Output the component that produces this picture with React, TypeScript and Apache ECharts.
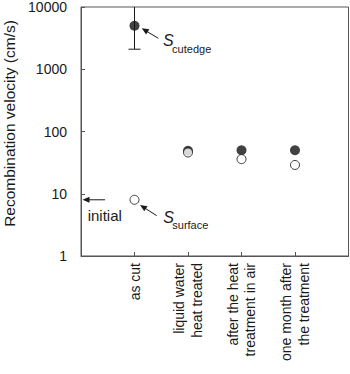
import React, { useEffect, useRef } from "react";
import * as echarts from "echarts";

// ---- data ----
const categories = [
  "as cut",
  "liquid water\nheat treated",
  "after the heat\ntreatment in air",
  "one month after\nthe treatment",
];
const sCutedge = [5000, 49, 50, 50];
const sSurface = [8, 46, 36, 29];
const errCategory = [1];
const errLow = [2100];
const errHigh = [12000];
const initialValue = 8;
const yMin = 1;
const yMax = 10000;

// annotation anchors in data coordinates [x, value]
const cutedgeArrow = { from: [1.445, 3140], to: [1.135, 4550] };
const cutedgeLabel = [1.535, 2850];
const surfaceArrow = { from: [1.415, 4.44], to: [1.103, 6.6] };
const surfaceLabel = [1.538, 4.08];
const initialArrow = { from: [0.449, initialValue], to: [0.028, initialValue] };
const initialLabel = [0.125, 4.47];

const FONT = "'Liberation Sans', Arial, Helvetica, sans-serif";
const INK = "#1a1a1a";
const AXIS = "#555";

export default function App() {
  const ref = useRef<HTMLDivElement>(null);

  useEffect(() => {
    document.body.style.margin = "0";
    const chart = echarts.init(ref.current!, null, { renderer: "svg" });
    chart.setOption({
      animation: false,
      textStyle: { fontFamily: FONT },
      grid: {
        left: 81,
        top: 7,
        right: 1.5,
        bottom: 118,
        containLabel: false,
        outerBoundsMode: "none",
        show: true,
        borderColor: AXIS,
        borderWidth: 1,
        backgroundColor: "transparent",
      },
      xAxis: {
        type: "value",
        min: 0,
        max: categories.length + 1,
        interval: 1,
        splitLine: { show: false },
        axisLine: { show: true, lineStyle: { color: AXIS } },
        axisTick: { show: true, inside: true, length: 4, lineStyle: { color: AXIS } },
        axisLabel: {
          rotate: 90,
          margin: 7,
          fontSize: 14,
          lineHeight: 17.5,
          color: INK,
          fontFamily: FONT,
          formatter: (v: number) => categories[v - 1] ?? "",
        },
      },
      yAxis: {
        type: "log",
        logBase: 10,
        min: yMin,
        max: yMax,
        splitLine: { show: false },
        minorTick: { show: false },
        axisLine: { show: true, lineStyle: { color: AXIS } },
        axisTick: { show: true, inside: true, length: 4, lineStyle: { color: AXIS } },
        axisLabel: {
          margin: 14,
          fontSize: 14,
          color: INK,
          fontFamily: FONT,
          formatter: (v: number) => String(Math.round(v)),
        },
        name: "Recombination velocity (cm/s)",
        nameLocation: "middle",
        nameGap: 61,
        nameTextStyle: { fontSize: 15.5, color: INK, fontFamily: FONT, padding: [0, 0, 0, 16] },
      },
      series: [
        {
          type: "custom",
          z: 1,
          clip: true,
          data: errCategory.map((c, i) => [c, errLow[i], errHigh[i]]),
          encode: { x: 0, y: [1, 2] },
          renderItem: (params: any, api: any) => {
            const x = api.value(0);
            const lo = api.coord([x, api.value(1)]);
            const hi = api.coord([x, api.value(2)]);
            const cap = 6;
            const style = { stroke: INK, lineWidth: 1 };
            return {
              type: "group",
              children: [
                { type: "line", shape: { x1: lo[0], y1: lo[1], x2: hi[0], y2: hi[1] }, style },
                { type: "line", shape: { x1: lo[0] - cap, y1: lo[1], x2: lo[0] + cap, y2: lo[1] }, style },
                { type: "line", shape: { x1: hi[0] - cap, y1: hi[1], x2: hi[0] + cap, y2: hi[1] }, style },
              ],
            };
          },
        },
        {
          name: "S_cutedge",
          type: "scatter",
          z: 2,
          symbol: "circle",
          symbolSize: 10,
          itemStyle: { color: "#111" },
          data: sCutedge.map((v, i) => [i + 1, v]),
        },
        {
          name: "S_surface",
          type: "scatter",
          z: 3,
          symbol: "circle",
          symbolSize: 9,
          itemStyle: { color: "#fff", borderColor: "#111", borderWidth: 1 },
          data: sSurface.map((v, i) => [i + 1, v]),
        },
      ],
    });

    const px = (p: number[]) => chart.convertToPixel({ gridIndex: 0 }, p) as number[];

    const arrow = (a: { from: number[]; to: number[] }) => {
      const P = px(a.from);
      const T = px(a.to);
      const dx = T[0] - P[0];
      const dy = T[1] - P[1];
      const len = Math.hypot(dx, dy) || 1;
      const ux = dx / len;
      const uy = dy / len;
      const nx = -uy;
      const ny = ux;
      const hl = 7;
      const hw = 3;
      const bx = T[0] - ux * hl;
      const by = T[1] - uy * hl;
      return [
        {
          type: "line",
          shape: { x1: P[0], y1: P[1], x2: bx + ux * 2, y2: by + uy * 2 },
          style: { stroke: INK, lineWidth: 1 },
          z: 10,
        },
        {
          type: "polygon",
          shape: {
            points: [
              [T[0], T[1]],
              [bx + nx * hw, by + ny * hw],
              [bx - nx * hw, by - ny * hw],
            ],
          },
          style: { fill: INK },
          z: 10,
        },
      ];
    };

    const sLabel = (anchor: number[], sub: string, subDy: number) => {
      const p = px(anchor);
      return [
        {
          type: "text",
          x: p[0],
          y: p[1],
          z: 10,
          style: {
            text: "S",
            fontSize: 16,
            fontStyle: "italic",
            fontFamily: FONT,
            fill: INK,
            align: "left",
            verticalAlign: "middle",
          },
        },
        {
          type: "text",
          x: p[0] + 9,
          y: p[1] + subDy,
          z: 10,
          style: {
            text: sub,
            fontSize: 11,
            fontFamily: FONT,
            fill: INK,
            align: "left",
            verticalAlign: "middle",
          },
        },
      ];
    };

    const ip = px(initialLabel);
    chart.setOption({
      graphic: [
        ...arrow(cutedgeArrow),
        ...arrow(surfaceArrow),
        ...arrow(initialArrow),
        ...sLabel(cutedgeLabel, "cutedge", 8),
        ...sLabel(surfaceLabel, "surface", 7),
        {
          type: "text",
          x: ip[0],
          y: ip[1],
          z: 10,
          style: {
            text: "initial",
            fontSize: 15,
            fontFamily: FONT,
            fill: INK,
            align: "left",
            verticalAlign: "middle",
          },
        },
      ],
    });

    return () => chart.dispose();
  }, []);

  return <div ref={ref} style={{ width: 350, height: 374 }} />;
}
